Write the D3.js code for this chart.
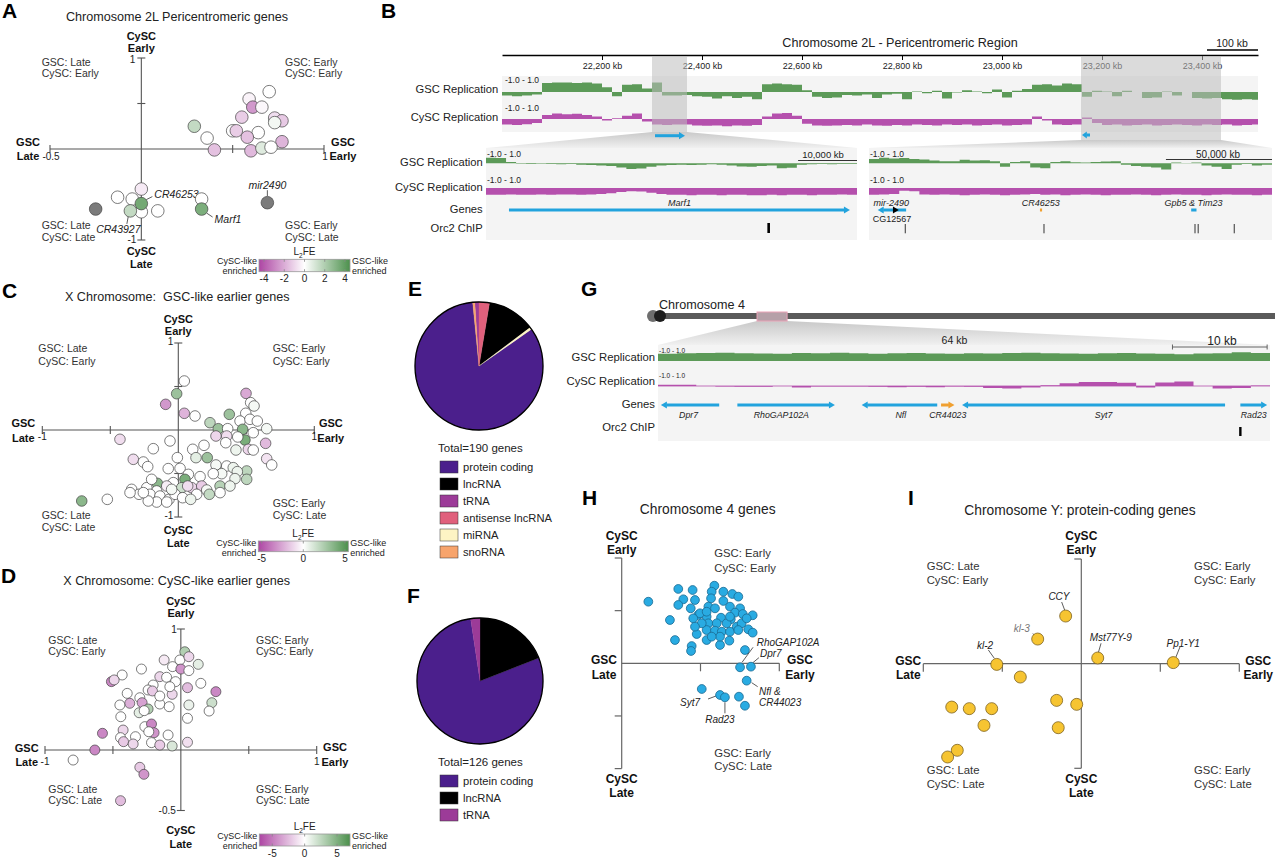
<!DOCTYPE html>
<html>
<head>
<meta charset="utf-8">
<script src="https://cdn.jsdelivr.net/npm/d3@7"></script>
<style>
  body { margin: 0; background: #fff; }
  svg { display: block; }
</style>
</head>
<body>
<script>
// ---------- A: chromosome 2L pericentromeric genes ----------
const aX = [0.70,0.59,0.61,0.66,0.55,0.73,0.77,0.73,0.29,0.50,0.52,0.64,0.36,0.58,0.77,0.40,0.60,0.66,0.71,0.00,-0.13,-0.05,0.00,0.09,-0.06,0.00,0.33,0.33,-0.25,0.69]
const aY = [0.63,0.55,0.46,0.46,0.35,0.34,0.31,0.29,0.25,0.20,0.20,0.18,0.12,0.13,0.08,-0.01,-0.02,0.01,0.02,-0.44,-0.53,-0.55,-0.69,-0.68,-0.68,-0.60,-0.55,-0.66,-0.66,-0.59]
const aFE = [0,-0.3,-2.5,-0.2,-1.2,-0.8,-1.3,0.3,1.5,0,-1.2,0,0,-1.5,-1.8,-1.5,-1.7,0.8,0,-0.5,0,0,0,0,1.5,3.5,0,3.3,null,null]
const aGenes = ["CR46253","CR43927","Marf1","mir2490"]
const aGeneIdx = [25,24,27,29]

// ---------- C: X chromosome, GSC-like earlier ----------
const cX = [0.044,-0.012,-0.093,0.044,0.123,0.498,0.532,0.557,0.375,0.496,0.233,0.294,0.363,0.454,0.527,0.581,0.650,0.473,0.490,0.277,0.356,0.437,0.551,0.642,0.515,0.551,0.650,0.687,-0.429,-0.184,-0.061,0.106,0.189,0.349,0.424,0.130,0.213,-0.007,-0.331,-0.257,-0.225,0.013,-0.074,0.277,0.356,0.404,0.503,0.434,0.319,0.257,0.160,0.074,0.503,0.417,0.049,-0.154,-0.037,-0.085,-0.159,-0.232,-0.343,-0.289,-0.208,-0.135,-0.068,0.025,0.099,0.172,0.209,0.135,0.307,0.228,0.307,0.380,-0.159,-0.221,-0.085,-0.024,0.032,0.091,-0.710,-0.522,-0.355,0.069,-0.049,-0.257,-0.196]
const cY = [0.563,0.417,0.295,0.192,0.161,0.421,0.314,0.276,0.180,0.192,0.084,0.015,0.015,0.103,0.123,0.103,0.015,0.008,-0.115,-0.069,-0.069,-0.080,-0.031,-0.153,-0.222,-0.230,-0.330,-0.402,-0.107,-0.215,-0.126,-0.222,-0.176,-0.146,-0.230,-0.318,-0.318,-0.318,-0.337,-0.368,-0.421,-0.441,-0.444,-0.402,-0.414,-0.433,-0.471,-0.479,-0.502,-0.502,-0.536,-0.510,-0.567,-0.559,-0.567,-0.613,-0.605,-0.644,-0.701,-0.663,-0.682,-0.739,-0.739,-0.759,-0.797,-0.663,-0.663,-0.644,-0.690,-0.739,-0.644,-0.739,-0.720,-0.644,-0.828,-0.816,-0.828,-0.739,-0.778,-0.797,-0.816,-0.797,-0.720,-0.644,-0.682,-0.720,-0.567]
const cFE = [0,3,-3,-2.2,0,-2.5,0,0.3,3,0,2,3,0,0,0,0,0.3,3.5,4,-1.2,-1,0,0,-2,-1.2,0,-0.8,0,-1,0,0,0,0,0,0.5,0.8,3,0,-1,0,0,0,0,0.3,0,0.5,2,0.5,0.3,0,0,0,2,0.5,4,3.5,0,-0.5,0,0,0,0,0,0,0,1.5,-1.2,-1.5,0.3,0,2.2,1.8,0,0.5,0,0,0,0,0,0.5,3.5,0,0,-1,0.3,0,0]

// ---------- D: X chromosome, CySC-like earlier ----------
const dX = [0.029,-0.007,0.059,-0.123,0.128,-0.061,0.000,0.059,-0.290,-0.432,-0.511,-0.491,-0.155,-0.105,-0.039,0.147,-0.204,-0.241,-0.209,0.049,-0.064,-0.395,-0.302,0.258,0.228,0.208,-0.376,-0.285,-0.449,-0.241,-0.307,-0.155,-0.086,0.059,-0.442,-0.265,-0.216,-0.197,-0.236,-0.425,-0.334,-0.444,-0.422,-0.351,-0.216,-0.155,-0.064,0.049,0.049,-0.577,-0.633,-0.793,-0.302,-0.272,-0.444,-0.155,-0.081,-0.270,-0.094]
const dY = [0.812,0.744,0.771,0.744,0.708,0.689,0.669,0.656,0.669,0.620,0.565,0.579,0.606,0.601,0.565,0.551,0.537,0.496,0.488,0.515,0.460,0.468,0.432,0.482,0.391,0.322,0.386,0.391,0.372,0.339,0.308,0.380,0.358,0.372,0.275,0.193,0.215,0.143,0.151,0.165,0.110,0.102,0.069,0.050,0.061,0.041,0.033,0.262,0.064,0.138,0.000,-0.083,-0.143,-0.201,-0.419,0.446,0.523,0.325,0.124]
const dFE = [3,0,-1.5,-0.8,1,0,-4,0,0,0,-4.5,-1.5,-1.5,0,0,0,0,0,-2,-2.5,-1.5,0,0,-4.5,2,0,-3,-3.5,0,3,1,0,0,0.8,0,0,-4.5,-4,0,-1.5,0,0,-2,-1.5,0,-2,1.5,0,-1.2,-4.5,-4.5,0,-2,-4,-2.5,0,0,0,0]

// ---------- E / F: gene types ----------
const typeNames = ["protein coding","lncRNA","tRNA","antisense lncRNA","miRNA","snoRNA"]
const typeColors = ["#4b1f8c","#000000","#9c3b98","#e0607c","#fdf4c4","#f7a46c"]
const eCounts = [158,23,2,5,1,1]
const fCounts = [99,24,3]

// ---------- H: chromosome 4 genes ----------
const hX = [0.169,0.359,0.450,0.391,0.465,0.359,0.438,0.306,0.486,0.454,0.588,0.571,0.645,0.702,0.740,0.567,0.645,0.550,0.592,0.687,0.751,0.719,0.768,0.831,0.539,0.630,0.692,0.550,0.603,0.666,0.730,0.761,0.803,0.831,0.476,0.539,0.592,0.635,0.687,0.740,0.338,0.444,0.440,0.539,0.624,0.683,0.782,0.751,0.820,0.793,0.508,0.624,0.655,0.744,0.782,0.624,0.571,0.508,0.497,0.687,0.793,0.539,0.465]
const hY = [0.585,0.706,0.696,0.608,0.601,0.554,0.522,0.411,0.459,0.427,0.737,0.680,0.680,0.658,0.633,0.617,0.592,0.538,0.522,0.538,0.522,0.481,0.468,0.456,0.443,0.433,0.418,0.380,0.380,0.380,0.348,0.380,0.323,0.291,0.278,0.316,0.310,0.300,0.300,0.316,0.221,0.164,0.117,0.221,0.174,0.215,0.126,-0.038,-0.032,-0.165,-0.244,-0.301,-0.323,-0.317,-0.403,0.253,0.253,0.380,0.475,0.443,0.427,0.490,0.348]
const hGenes = ["RhoGAP102A","Dpr7","Nfl &|CR44023","Syt7","Rad23"]
const hGeneIdx = [47,48,49,51,52]

// ---------- I: chromosome Y protein-coding genes ----------
const iX = [-0.099,-0.276,-0.535,0.104,0.582,-0.386,-0.820,-0.709,-0.567,-0.616,-0.156,-0.029,-0.146,-0.785,-0.846]
const iY = [0.455,0.235,-0.007,0.054,0.010,-0.128,-0.415,-0.430,-0.430,-0.590,-0.351,-0.389,-0.612,-0.828,-0.892]
const iGenes = ["CCY","kl-3","kl-2","Mst77Y-9","Pp1-Y1"]
const iGeneIdx = [0,1,2,3,4]

// ---------- B: 2L pericentromeric region browser ----------
const bTicks = [22200,22400,22600,22800,23000,23200,23400]
const bGsc = [-0.3,-0.35,-0.3,-0.2,0.75,0.8,0.8,0.75,0.8,0.7,0.4,-0.35,0.6,0.65,0.3,0.8,-0.3,-0.3,-0.25,-0.35,-0.4,-0.55,-0.35,-0.5,-0.4,-0.6,0.65,0.7,0.65,0.6,0.15,-0.4,-0.5,-0.45,-0.25,-0.3,-0.2,-0.5,-0.2,-0.15,-0.6,0.05,-0.1,0.1,-0.55,-0.05,0.15,0.05,-0.1,0.2,-0.45,0.1,0.25,0.6,0.65,0.55,0.7,0.65,-0.4,0.1,0.05,-0.35,0.1,0.0,-0.5,-0.45,0.05,-0.3,0.0,-0.5,-0.55,-0.5,-0.6,-0.65,-0.6,-0.65]
const bCysc = [-0.7,-0.75,-0.65,-0.5,0.5,0.7,0.6,0.65,0.5,0.3,-0.2,0.1,0.4,0.7,-0.3,-0.7,-0.75,-0.7,-0.7,-0.8,-0.85,-0.8,-0.9,-0.8,-0.85,-0.75,0.3,0.7,0.75,0.4,-0.6,-0.8,-0.85,-0.8,-0.75,-0.8,-0.7,-0.8,-0.85,-0.75,-0.8,-0.7,-0.75,-0.8,-0.7,-0.75,-0.7,-0.8,-0.75,-0.7,-0.8,-0.75,-0.7,0.3,-0.2,-0.7,-0.75,-0.7,0.2,-0.5,-0.75,-0.7,-0.8,-0.75,-0.7,-0.8,-0.75,-0.7,-0.75,-0.8,-0.7,-0.75,-0.7,-0.8,-0.75,-0.7]
const bZoomKb = [[22300,22370],[23158,23438]]
const bLeftGsc = [0.8,0.75,0.2,-0.05,-0.1,-0.05,-0.1,-0.15,-0.1,-0.2,-0.25,-0.3,-0.4,-0.6,-0.8,-0.75,-0.5,-0.3,-0.25,-0.2,-0.25,-0.2,-0.15,-0.2,-0.3,-0.45,-0.5,-0.4,-0.3,-0.7,-0.65,-0.2,-0.15,-0.1,-0.15,-0.1,-0.1]
const bLeftCysc = [-0.85,-0.85,-0.8,-0.85,-0.85,-0.8,-0.85,-0.8,-0.8,-0.85,-0.8,-0.75,-0.65,-0.5,-0.4,-0.45,-0.6,-0.75,-0.85,-0.85,-0.9,-0.85,-0.85,-0.9,-0.85,-0.85,-0.9,-0.9,-0.85,-0.9,-0.85,-0.85,-0.9,-0.85,-0.85,-0.8,-0.85]
const bRightGsc = [0.6,0.8,0.7,0.75,0.6,0.55,0.4,0.3,0.3,0.5,0.4,0.45,0.3,-0.5,0.2,0.3,-0.6,-0.7,0.2,0.3,0.15,0.1,0.2,0.25,0.3,-0.2,-0.4,-0.5,-0.6,-0.9,0.1,0.05,0.1,-0.3,-0.5,-0.8,-0.2,-0.1,-0.3,-0.2]
const bRightCysc = [-0.85,-0.8,-0.75,-0.35,-0.4,-0.8,-0.85,-0.8,-0.85,-0.9,-0.85,-0.8,-0.85,-0.9,-0.85,-0.8,-0.75,-0.85,-0.8,-0.9,-0.85,-0.8,-0.85,-0.9,-0.85,-0.85,-0.8,-0.85,-0.9,-0.85,-0.8,-0.85,-0.85,-0.9,-0.85,-0.8,-0.85,-0.85,-0.9,-0.85]
const bLeftDomain = [22300,22363]
const bRightDomain = [23160,23350]
const bLeftOrc = [22348]
const bRightOrc = [23177.1,23242.5,23313.7,23315.2,23332.2]

// ---------- G: chromosome 4 browser ----------
const gGsc = [0.65,0.7,0.72,0.75,0.7,0.68,0.65,0.72,0.7,0.75,0.7,0.65,0.7,0.72,0.68,0.65,0.7,0.68,0.72,0.75,0.7,0.68,0.65,0.7,0.72,0.68,0.65,0.62,0.68,0.7,0.8,0.72]
const gCysc = [0.15,0.15,0,-0.05,-0.1,-0.1,0,-0.2,-0.05,-0.05,-0.05,-0.1,-0.15,-0.1,-0.15,-0.05,-0.1,-0.25,-0.3,-0.2,0.1,0.35,0.5,0.5,0.4,-0.2,0.45,0.55,0,-0.3,-0.25,0.05]
const gGeneNames = ["Dpr7","RhoGAP102A","Nfl","CR44023","Syt7","Rad23"]
const gGeneStart = [0.3,8.3,21.3,29.6,31.8,60.9]
const gGeneEnd = [6.4,18.5,29.2,31.0,59.3,63.7]
const gGeneDir = [-1,1,-1,1,-1,1]
const gGeneLabelKb = [3.2,12.9,25.4,30.3,46.6,62.3]
const gOrc = [60.9]

const FONT = '"Liberation Sans", Arial, Helvetica, sans-serif'
const GREEN = "#5c9a58", MAGENTA = "#b550ad", BLUE = "#22a3dd", ORANGE = "#f0a030"

let svg = d3.select("body").append("svg")
    .attr("width", 1280).attr("height", 859)
    .attr("font-family", FONT)
let defs = svg.append("defs")

function T(g, x, y, s, o){
    o = o || {}
    let t = g.append("text").attr("x", x).attr("y", y)
        .attr("font-size", o.size || 11)
        .attr("text-anchor", o.anchor || "start")
        .attr("fill", o.fill || "#222")
        .style("white-space", "pre")
        .text(s)
    if(o.bold) t.attr("font-weight", "bold")
    if(o.italic) t.attr("font-style", "italic")
    return t
}
function L(g, x1, y1, x2, y2, c, w){
    return g.append("line").attr("x1", x1).attr("y1", y1).attr("x2", x2).attr("y2", y2)
        .attr("stroke", c || "#555").attr("stroke-width", w || 1)
}
function pair(g, x, y, a, b, o, gap){
    T(g, x, y, a, o)
    T(g, x, y + (gap || 12), b, o)
}
const feColor = max => d3.scaleLinear().domain([-max, 0, max]).range(["#ad45a3", "#ffffff", "#4c904c"])

// panel letters
;[["A",2,18],["B",381,18],["C",2,298],["D",1,583],["E",408,296],["F",407,603],["G",581,296],["H",582,505],["I",908,505]]
    .forEach(d => T(svg, d[1], d[2], d[0], {size: 21, bold: true, fill: "#000"}))

// ---------- helpers for A/C/D ----------
function crossAxes(g, x, y, xt, yt){
    L(g, x.range()[0], y(0), x.range()[1], y(0), "#555", 1.1)
    L(g, x(0), y.range()[0], x(0), y.range()[1], "#555", 1.1)
    xt.forEach(t => L(g, x(t), y(0) - 4, x(t), y(0) + 4, "#555", 1.1))
    yt.forEach(t => L(g, x(0) - 4, y(t), x(0) + 4, y(t), "#555", 1.1))
}
function dots(g, X, Y, FE, x, y, r, col){
    g.selectAll(null)
        .data(X.map((v, i) => ({x: v, y: Y[i], fe: FE[i]})))
        .enter().append("circle")
        .attr("cx", d => x(d.x)).attr("cy", d => y(d.y)).attr("r", r)
        .attr("fill", d => d.fe == null ? "#7b7b7b" : col(d.fe))
        .attr("stroke", "#444").attr("stroke-width", 0.7)
}
function colorbar(g, id, x0, x1, y0, h, max, ticks){
    let s = d3.scaleLinear().domain([-max, max]).range([x0, x1])
    let col = feColor(max)
    let gr = defs.append("linearGradient").attr("id", id)
    ;[-max, -max/2, 0, max/2, max].forEach(v => gr.append("stop")
        .attr("offset", (v + max) / (2 * max)).attr("stop-color", col(v)))
    g.append("rect").attr("x", x0).attr("y", y0).attr("width", x1 - x0).attr("height", h)
        .attr("fill", `url(#${id})`).attr("stroke", "#999").attr("stroke-width", 0.8)
    ticks.forEach(t => {
        L(g, s(t), y0, s(t), y0 + 2.5, "#888", 0.8)
        L(g, s(t), y0 + h - 2.5, s(t), y0 + h, "#888", 0.8)
        T(g, s(t), y0 + h + 10.5, t, {size: 10, anchor: "middle"})
    })
    let lab = T(g, (x0 + x1) / 2, y0 - 4, "L", {size: 10, anchor: "middle"})
    lab.append("tspan").attr("font-size", 6.5).attr("dy", 2.5).text("2")
    lab.append("tspan").attr("dy", -2.5).text("FE")
    pair(g, x0 - 2, y0 + 4.5, "CySC-like", "enriched", {size: 9, anchor: "end"}, 10.3)
    pair(g, x1 + 2, y0 + 4.5, "GSC-like", "enriched", {size: 9}, 10.3)
}
const QL = {size: 10.5, fill: "#333"}
const BIG = {size: 11, bold: true, anchor: "middle", fill: "#111"}

// ---------- A ----------
let gA = svg.append("g")
let xA = d3.scaleLinear().domain([-0.5, 1]).range([50, 324])
let yA = d3.scaleLinear().domain([-1, 1]).range([240, 58])
T(gA, 177, 21, "Chromosome 2L Pericentromeric genes", {size: 12.6, anchor: "middle"})
crossAxes(gA, xA, yA, [-0.5, 0.5, 1], [-1, 0.5, 1])
pair(gA, xA(0), yA(1) - 18, "CySC", "Early", BIG)
pair(gA, xA(0), yA(-1) + 14.5, "CySC", "Late", BIG, 13)
pair(gA, xA(-0.5) - 22, yA(0) - 3, "GSC", "Late", BIG, 14)
pair(gA, xA(1) + 19, yA(0) - 3, "GSC", "Early", BIG, 14)
T(gA, xA(0) - 6, yA(1) + 4.5, "1", {size: 10, anchor: "end"})
T(gA, xA(0) - 5, yA(-1) + 3, "-1", {size: 10, anchor: "end"})
T(gA, xA(-0.5) + 1, yA(0) + 11, "-0.5", {size: 10, anchor: "middle"})
T(gA, xA(1) + 1, yA(0) + 11, "1", {size: 10, anchor: "middle"})
pair(gA, 41.7, 65.5, "GSC: Late", "CySC: Early", QL, 11.6)
pair(gA, 285, 65.5, "GSC: Early", "CySC: Early", QL, 11.6)
pair(gA, 41.7, 228.8, "GSC: Late", "CySC: Late", QL, 12.5)
pair(gA, 285, 228.8, "GSC: Early", "CySC: Late", QL, 12.5)
// leader lines + gene names (offsets from the point: text dx,dy,anchor / line)
const aLabelLayout = [[13,-6,"start",5,-4,11,-7],[-12,22,"middle",-2,5,-3.5,13],[13,13.6,"start",5,4,11,8],[0,-14,"middle",0,-6.5,0,-12.5]]
aGeneIdx.forEach((idx, k) => {
    let px = xA(aX[idx]), py = yA(aY[idx]), o = aLabelLayout[k]
    L(gA, px + o[3], py + o[4], px + o[5], py + o[6], "#333", 0.8)
    T(gA, px + o[0], py + o[1], aGenes[k], {size: 10.5, italic: true, anchor: o[2]})
})
dots(gA, aX, aY, aFE, xA, yA, 6.3, feColor(4.5))
colorbar(gA, "cbA", 259, 350, 259.3, 12.4, 4.5, [-4, -2, 0, 2, 4])

// ---------- C ----------
let gC = svg.append("g")
let xC = d3.scaleLinear().domain([-1, 1]).range([42.3, 314.3])
let yC = d3.scaleLinear().domain([-1, 1]).range([517, 343])
T(gC, 177.3, 301, "X Chromosome:  GSC-like earlier genes", {size: 12.6, anchor: "middle"})
crossAxes(gC, xC, yC, [-1, -0.5, 0.5, 1], [-1, -0.5, 0.5, 1])
pair(gC, xC(0), yC(1) - 20.5, "CySC", "Early", BIG, 12.7)
pair(gC, xC(0), yC(-1) + 17, "CySC", "Late", BIG, 13.3)
pair(gC, xC(-1) - 19, yC(0) - 2.7, "GSC", "Late", BIG, 14.4)
pair(gC, xC(1) + 16.5, yC(0) - 2.7, "GSC", "Early", BIG, 14.4)
T(gC, xC(0) - 5, yC(1) + 1.5, "1", {size: 10, anchor: "end"})
T(gC, xC(0) - 5, yC(-1) + 1.5, "-1", {size: 10, anchor: "end"})
T(gC, xC(-1), yC(0) + 10, "-1", {size: 10, anchor: "middle"})
T(gC, xC(1), yC(0) + 10, "1", {size: 10, anchor: "middle"})
pair(gC, 38.3, 352, "GSC: Late", "CySC: Early", QL, 13.4)
pair(gC, 272.7, 352, "GSC: Early", "CySC: Early", QL, 13.4)
pair(gC, 41.7, 519.4, "GSC: Late", "CySC: Late", QL, 12)
pair(gC, 272.7, 507, "GSC: Early", "CySC: Late", QL, 11.7)
dots(gC, cX, cY, cFE, xC, yC, 5.3, feColor(5.4))
colorbar(gC, "cbC", 258.3, 348.3, 541, 10.7, 5.4, [-5, 0, 5])

// ---------- D ----------
let gD = svg.append("g")
let xD = d3.scaleLinear().domain([-1, 1]).range([45, 316.7])
let yD = d3.scaleLinear().domain([-0.5, 1]).range([810.5, 629])
T(gD, 176.7, 585, "X Chromosome: CySC-like earlier genes", {size: 12.6, anchor: "middle"})
crossAxes(gD, xD, yD, [-1, -0.5, 0.5, 1], [-0.5, 1])
pair(gD, xD(0), yD(1) - 24.3, "CySC", "Early", BIG, 12.6)
pair(gD, xD(0), yD(-0.5) + 23.5, "CySC", "Late", BIG, 14)
pair(gD, xD(-1) - 18.3, yD(0) + 2.3, "GSC", "Late", BIG, 14)
pair(gD, xD(1) + 18.3, yD(0) + 1.3, "GSC", "Early", BIG, 14.4)
T(gD, xD(0) - 4, yD(1) + 3.5, "1", {size: 10, anchor: "end"})
T(gD, xD(0) - 5, yD(-0.5) + 3, "-0.5", {size: 10, anchor: "end"})
T(gD, xD(-1), yD(0) + 15, "-1", {size: 10, anchor: "middle"})
T(gD, xD(1), yD(0) + 15, "1", {size: 10, anchor: "middle"})
pair(gD, 48.3, 643.7, "GSC: Late", "CySC: Early", QL, 11.7)
pair(gD, 256, 643.7, "GSC: Early", "CySC: Early", QL, 11.7)
pair(gD, 48.3, 792.7, "GSC: Late", "CySC: Late", QL, 11.7)
pair(gD, 256, 792.7, "GSC: Early", "CySC: Late", QL, 11.7)
dots(gD, dX, dY, dFE, xD, yD, 5, feColor(7))
colorbar(gD, "cbD", 259.3, 350, 834, 12, 7, [-5, 0, 5])

// ---------- E / F pies ----------
function pieChart(counts, cx, cy, r, total, ly){
    let g = svg.append("g")
    let data = counts.map((n, i) => ({cat: typeNames[i], n: n, color: typeColors[i]}))
    let pie = d3.pie().sort((a, b) => d3.ascending(a.cat, b.cat)).value(d => d.n)
    let arc = d3.arc().innerRadius(0).outerRadius(r)
    g.append("g").attr("transform", `translate(${cx},${cy})`)
        .selectAll("path").data(pie(data)).enter().append("path")
        .attr("d", arc).attr("fill", d => d.data.color)
        .attr("stroke", d => d.data.color).attr("stroke-width", 0.3)
    g.append("circle").attr("cx", cx).attr("cy", cy).attr("r", r)
        .attr("fill", "none").attr("stroke", "#000").attr("stroke-width", 1.3)
    T(g, 438, ly, `Total=${total} genes`, {size: 11.5})
    data.forEach((d, i) => {
        let yy = ly + 15 + i * 17
        g.append("rect").attr("x", 440).attr("y", yy - 6).attr("width", 18).attr("height", 12)
            .attr("fill", d.color).attr("stroke", "#333").attr("stroke-width", 0.5)
        T(g, 463, yy + 4, d.cat, {size: 11.2})
    })
}
pieChart(eCounts, 479, 366, 64, d3.sum(eCounts), 452)
pieChart(fCounts, 480, 681, 63, d3.sum(fCounts), 766)

// ---------- B: genome browser ----------
let gB = svg.append("g")
function track(g, vals, xs, base, k, color){
    let area = d3.area().x((d, i) => xs(i)).y0(base).y1(d => base - k * d).curve(d3.curveStepAfter)
    g.append("path").attr("d", area(vals.concat([vals[vals.length - 1]]))).attr("fill", color)
}
function gene(g, xa, xb, y, dir, color){
    let hd = Math.min(6, (xb - xa) * 0.6)
    if(dir > 0){
        L(g, xa, y, xb - hd + 0.5, y, color, 3)
        g.append("path").attr("d", `M${xb},${y}L${xb - hd},${y - 3.6}L${xb - hd},${y + 3.6}Z`).attr("fill", color)
    } else {
        L(g, xa + hd - 0.5, y, xb, y, color, 3)
        g.append("path").attr("d", `M${xa},${y}L${xa + hd},${y - 3.6}L${xa + hd},${y + 3.6}Z`).attr("fill", color)
    }
}
let kb = d3.scaleLinear().domain([22000, 23512]).range([502, 1258]).clamp(true)
T(gB, 900, 47, "Chromosome 2L - Pericentromeric Region", {size: 12.6, anchor: "middle"})
T(gB, 1232, 46.5, "100 kb", {size: 10.5, anchor: "middle"})
L(gB, kb(23410), 50, kb(23512), 50, "#000", 1.5)
let axB = gB.append("g").attr("transform", "translate(0,55)")
    .call(d3.axisBottom(kb).tickValues(bTicks).tickSize(5).tickSizeOuter(0).tickPadding(3)
        .tickFormat(d => d3.format(",")(d) + " kb"))
axB.attr("font-family", FONT).attr("font-size", 9)
axB.select(".domain").attr("stroke", "#000").attr("stroke-width", 1.4)
axB.selectAll(".tick line").attr("stroke", "#000")
axB.selectAll(".tick text").attr("fill", "#222")
gB.append("rect").attr("x", 502).attr("y", 76).attr("width", 756).attr("height", 56).attr("fill", "#f4f4f4")
T(gB, 498.3, 93, "GSC Replication", {size: 11.2, anchor: "end"})
T(gB, 498.3, 120.5, "CySC Replication", {size: 11.2, anchor: "end"})
T(gB, 505, 83, "-1.0 - 1.0", {size: 8.5})
T(gB, 505, 111, "-1.0 - 1.0", {size: 8.5})
let binX = i => kb(22000 + 20 * i)
track(gB, bGsc, binX, 92, 12, GREEN)
track(gB, bCysc, binX, 119, 8, MAGENTA)
// highlighted regions and the zoom wedges
let zg = defs.append("linearGradient").attr("id", "zg").attr("x1", 0).attr("y1", 0).attr("x2", 0).attr("y2", 1)
zg.append("stop").attr("offset", 0).attr("stop-color", "#c9c9c9")
zg.append("stop").attr("offset", 1).attr("stop-color", "#f0f0f0")
let panels = [[486, 857], [869, 1272]]
let hlBottom = [132, 140]
bZoomKb.forEach((r, i) => {
    gB.append("rect").attr("x", kb(r[0])).attr("y", 56).attr("width", kb(r[1]) - kb(r[0]))
        .attr("height", hlBottom[i] - 56).attr("fill", "#bdbdbd").attr("opacity", 0.55)
    gB.append("path").attr("d", `M${kb(r[0])},${hlBottom[i]}L${kb(r[1])},${hlBottom[i]}L${panels[i][1]},148L${panels[i][0]},148Z`)
        .attr("fill", "url(#zg)")
})
gene(gB, kb(22306), kb(22366), 135.7, 1, BLUE)
gene(gB, kb(23160), kb(23176), 135, -1, BLUE)

// lower left (Marf1)
let lx = d3.scaleLinear().domain(bLeftDomain).range(panels[0])
gB.append("rect").attr("x", 486).attr("y", 148).attr("width", 371).attr("height", 92).attr("fill", "#f4f4f4")
track(gB, bLeftGsc, d3.scaleLinear().domain([0, bLeftGsc.length]).range(panels[0]), 163.3, 7, GREEN)
track(gB, bLeftCysc, d3.scaleLinear().domain([0, bLeftCysc.length]).range(panels[0]), 188, 8, MAGENTA)
T(gB, 482.7, 165.5, "GSC Replication", {size: 11.2, anchor: "end"})
T(gB, 482.7, 190.5, "CySC Replication", {size: 11.2, anchor: "end"})
T(gB, 482.7, 213, "Genes", {size: 11.2, anchor: "end"})
T(gB, 482.7, 232, "Orc2 ChIP", {size: 11.2, anchor: "end"})
T(gB, 487, 157, "-1.0 - 1.0", {size: 8.5})
T(gB, 487, 183, "-1.0 - 1.0", {size: 8.5})
T(gB, 823, 157.5, "10,000 kb", {size: 9.5, anchor: "middle"})
L(gB, lx(22353), 160.5, lx(22363), 160.5, "#333", 1)
gene(gB, lx(22303.9), lx(22361.8), 210, 1, BLUE)
T(gB, lx((22303.9 + 22361.8) / 2), 206, "Marf1", {size: 9, italic: true, anchor: "middle"})
bLeftOrc.forEach(p => gB.append("rect").attr("x", lx(p) - 1.3).attr("y", 223).attr("width", 2.6).attr("height", 10).attr("fill", "#000"))

// lower right
let rx = d3.scaleLinear().domain(bRightDomain).range(panels[1])
gB.append("rect").attr("x", 869).attr("y", 148).attr("width", 403).attr("height", 92).attr("fill", "#f4f4f4")
track(gB, bRightGsc, d3.scaleLinear().domain([0, bRightGsc.length]).range(panels[1]), 163.3, 7, GREEN)
track(gB, bRightCysc, d3.scaleLinear().domain([0, bRightCysc.length]).range(panels[1]), 188, 8, MAGENTA)
T(gB, 870, 157, "-1.0 - 1.0", {size: 8.5})
T(gB, 870, 183, "-1.0 - 1.0", {size: 8.5})
T(gB, 1218, 158, "50,000 kb", {size: 10, anchor: "middle"})
L(gB, rx(23300), 159.5, rx(23350), 159.5, "#333", 1)
gene(gB, rx(23164.1), rx(23177.5), 210, -1, BLUE)
gB.append("path").attr("d", `M${rx(23174)},210L${rx(23171.3)},206.5L${rx(23171.3)},213.5Z`).attr("fill", "#000")
T(gB, rx(23170.5), 205.5, "mir-2490", {size: 9, italic: true, anchor: "middle"})
T(gB, rx(23170.8), 221.5, "CG12567", {size: 9, anchor: "middle"})
gB.append("rect").attr("x", rx(23240.6)).attr("y", 208.5).attr("width", rx(23241.6) - rx(23240.6)).attr("height", 3).attr("fill", ORANGE)
T(gB, rx(23241), 205.5, "CR46253", {size: 9, italic: true, anchor: "middle"})
L(gB, rx(23311.9), 210, rx(23314.4), 210, BLUE, 3)
T(gB, rx(23313), 205.5, "Gpb5 & Tim23", {size: 9, italic: true, anchor: "middle"})
bRightOrc.forEach(p => L(gB, rx(p), 224, rx(p), 233.3, "#333", 1))

// ---------- G: chromosome 4 ----------
let gG = svg.append("g")
let chr4 = d3.scaleLinear().domain([0, 1350]).range([660, 1275])
let gx = d3.scaleLinear().domain([0, 64]).range([658, 1270])
T(gG, 659, 308.5, "Chromosome 4", {size: 12.6})
gG.append("path").attr("d", `M${chr4(213)},321L${chr4(279)},321L1270,345L658,345Z`).attr("fill", "url(#zg)")
gG.append("rect").attr("x", chr4(0)).attr("y", 313).attr("width", chr4(1350) - chr4(0)).attr("height", 6).attr("fill", "#5a5a5a")
gG.append("circle").attr("cx", 653).attr("cy", 316).attr("r", 6).attr("fill", "#6e6e6e")
gG.append("circle").attr("cx", 660).attr("cy", 316).attr("r", 6).attr("fill", "#1e1e1e")
gG.append("rect").attr("x", chr4(213)).attr("y", 312).attr("width", chr4(279) - chr4(213)).attr("height", 9)
    .attr("fill", "#b6a0a8").attr("stroke", "#eba3b8").attr("stroke-width", 1)
gG.append("rect").attr("x", 658).attr("y", 345).attr("width", 612).attr("height", 96).attr("fill", "#f4f4f4")
T(gG, gx(31), 344, "64 kb", {size: 10.5, anchor: "middle"})
T(gG, 1222, 345, "10 kb", {size: 12, anchor: "middle"})
L(gG, gx(53.8), 347, gx(63.7), 347, "#555", 0.9)
L(gG, gx(53.8), 344.5, gx(53.8), 349.5, "#555", 0.9)
L(gG, gx(63.7), 344.5, gx(63.7), 349.5, "#555", 0.9)
T(gG, 655, 361, "GSC Replication", {size: 11.3, anchor: "end"})
T(gG, 655, 385, "CySC Replication", {size: 11.3, anchor: "end"})
T(gG, 655, 408, "Genes", {size: 11.3, anchor: "end"})
T(gG, 655, 431, "Orc2 ChIP", {size: 11.3, anchor: "end"})
T(gG, 659, 353, "-1.0 - 1.0", {size: 6.5})
T(gG, 659, 378, "-1.0 - 1.0", {size: 6.5})
let gbin = d3.scaleLinear().domain([0, gGsc.length]).range([658, 1270])
track(gG, gGsc, gbin, 361, 11, GREEN)
track(gG, gCysc, gbin, 386, 8, MAGENTA)
L(gG, 658, 386, 1270, 386, MAGENTA, 0.8)
gGeneNames.forEach((n, i) => {
    gene(gG, gx(gGeneStart[i]), gx(gGeneEnd[i]), 405, gGeneDir[i], n == "CR44023" ? ORANGE : BLUE)
    T(gG, gx(gGeneLabelKb[i]), 417.5, n, {size: 8.8, italic: true, anchor: "middle"})
})
gOrc.forEach(p => gG.append("rect").attr("x", gx(p) - 1.2).attr("y", 427).attr("width", 2.4).attr("height", 9).attr("fill", "#000"))

// ---------- H ----------
const BIG2 = {size: 12, bold: true, anchor: "middle", fill: "#111"}
const QL2 = {size: 11.3, fill: "#333"}
let gH = svg.append("g")
let xH = d3.scaleLinear().domain([0, 1]).range([621.7, 779.3])
let yH = d3.scaleLinear().domain([-1, 1]).range([768.6, 558])
T(gH, 707.7, 514, "Chromosome 4 genes", {size: 13.8, anchor: "middle"})
L(gH, xH(0), yH(1), xH(0), yH(-1), "#666", 1.2)
L(gH, xH(0), yH(0), xH(1), yH(0), "#666", 1.2)
;[1, 0.5, -0.5, -1].forEach(t => L(gH, xH(0) - 7, yH(t), xH(0), yH(t), "#666", 1.2))
;[0.5, 1].forEach(t => L(gH, xH(t), yH(0), xH(t), yH(0) + 8, "#666", 1.2))
pair(gH, xH(0), 540, "CySC", "Early", BIG2, 13.5)
pair(gH, xH(0), 783, "CySC", "Late", BIG2, 14)
pair(gH, 604, 664, "GSC", "Late", BIG2, 14.5)
pair(gH, 800, 664, "GSC", "Early", BIG2, 14.5)
pair(gH, 714.3, 557.3, "GSC: Early", "CySC: Early", QL2, 15)
pair(gH, 714.3, 757.3, "GSC: Early", "CySC: Late", QL2, 12.7)
const hLabelLayout = [[16.6,-21,"start",2,-5,13,-20],[9,-10,"start",2,-4,8,-9],[12.3,14.7,"start",5,2,11,6],[-20,11,"end",-4,1,-12,4],[-5,25.7,"middle",0,5,0,16]]
hGeneIdx.forEach((idx, k) => {
    let px = xH(hX[idx]), py = yH(hY[idx]), o = hLabelLayout[k]
    L(gH, px + o[3], py + o[4], px + o[5], py + o[6], "#333", 0.8)
    hGenes[k].split("|").forEach((s, j) => T(gH, px + o[0], py + o[1] + j * 10.6, s, {size: 10, italic: true, anchor: o[2]}))
})
gH.selectAll(null).data(hX.map((v, i) => [v, hY[i]])).enter().append("circle")
    .attr("cx", d => xH(d[0])).attr("cy", d => yH(d[1])).attr("r", 4.4)
    .attr("fill", "#29abe2").attr("stroke", "#1a6a92").attr("stroke-width", 0.8)

// ---------- I ----------
let gI = svg.append("g")
let xI = d3.scaleLinear().domain([-1, 1]).range([923.3, 1239.3])
let yI = d3.scaleLinear().domain([-1, 1]).range([768.3, 559])
T(gI, 1080, 515, "Chromosome Y: protein-coding genes", {size: 13.8, anchor: "middle"})
L(gI, xI(0), yI(1), xI(0), yI(-1), "#666", 1.2)
L(gI, xI(-1), yI(0), xI(1), yI(0), "#666", 1.2)
;[1, -1].forEach(t => L(gI, xI(0) - 7, yI(t), xI(0), yI(t), "#666", 1.2))
;[-1, -0.5, 0.5, 1].forEach(t => L(gI, xI(t), yI(0), xI(t), yI(0) + 8, "#666", 1.2))
pair(gI, xI(0), 539.5, "CySC", "Early", BIG2, 14.5)
pair(gI, xI(0), 783, "CySC", "Late", BIG2, 14)
pair(gI, 908.3, 664.5, "GSC", "Late", BIG2, 14)
pair(gI, 1258.3, 664.5, "GSC", "Early", BIG2, 14)
pair(gI, 926.7, 570, "GSC: Late", "CySC: Early", QL2, 14)
pair(gI, 1194, 570, "GSC: Early", "CySC: Early", QL2, 14)
pair(gI, 926.7, 774, "GSC: Late", "CySC: Late", QL2, 14)
pair(gI, 1194, 774, "GSC: Early", "CySC: Late", QL2, 14)
const iLabelLayout = [[-6.7,-16,-4,-14,-1,-6],[-16,-7.4,-5,-5.4,-2,-3],[-11.7,-15,-8.4,-14.4,-2.4,-6],[13,-17,3.3,-14.7,0.6,-5.3],[10,-16,6.7,-15.6,2.7,-5.6]]
iGeneIdx.forEach((idx, k) => {
    let px = xI(iX[idx]), py = yI(iY[idx]), o = iLabelLayout[k]
    L(gI, px + o[2], py + o[3], px + o[4], py + o[5], "#333", 0.8)
    T(gI, px + o[0], py + o[1], iGenes[k], {size: 10, italic: true, anchor: "middle", fill: iGenes[k] == "kl-3" ? "#777" : "#222"})
})
gI.selectAll(null).data(iX.map((v, i) => [v, iY[i]])).enter().append("circle")
    .attr("cx", d => xI(d[0])).attr("cy", d => yI(d[1])).attr("r", 6)
    .attr("fill", "#f6c431").attr("stroke", "#7d6220").attr("stroke-width", 0.8)
</script>
</body>
</html>
